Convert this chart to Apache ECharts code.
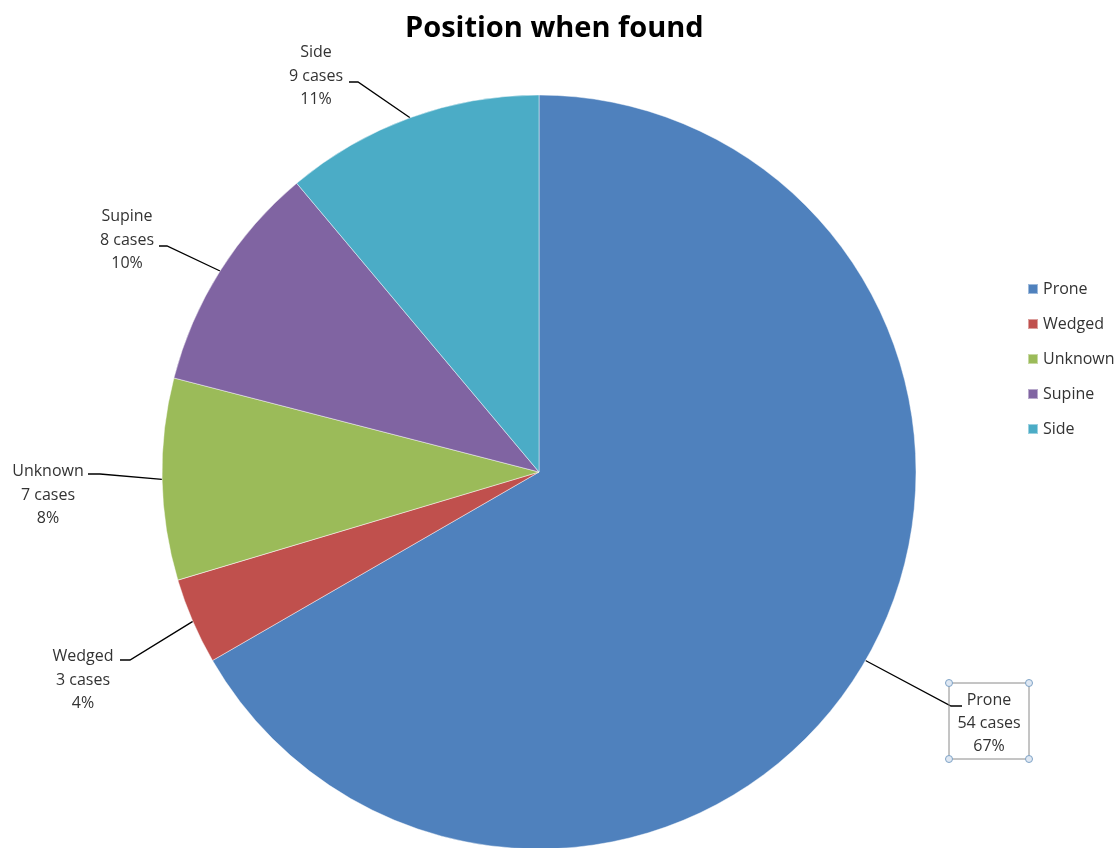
<!DOCTYPE html>
<html>
<head>
<meta charset="utf-8">
<script src="https://cdn.jsdelivr.net/npm/echarts@6/dist/echarts.min.js"></script>
<style>
  html, body { margin: 0; padding: 0; background: #fff; }
  #chart { width: 1117px; height: 848px; }
</style>
</head>
<body>
<div id="chart"></div>
<script>
// Position when found: number of cases per position
const categories = ['Prone', 'Wedged', 'Unknown', 'Supine', 'Side'];
const cases = [54, 3, 7, 8, 9];
const percentLabels = ['67%', '4%', '8%', '10%', '11%'];

const colors = ['#4F81BD', '#C0504D', '#9BBB59', '#8064A2', '#4BACC6'];

// Where each callout sits: text anchor (top-centre), leader end and bend
const callouts = [
  { x: 989, y: 683, end: [962, 706], bend: [951, 706] },
  { x: 83,  y: 645, end: [120, 660], bend: [130, 660] },
  { x: 48,  y: 460, end: [88, 474],  bend: [100, 474] },
  { x: 127, y: 205, end: [159, 246], bend: [167, 246] },
  { x: 316, y: 41,  end: [349, 82],  bend: [358, 82] }
];
const proneBox = { x: 949, y: 683, w: 80, h: 76 };

const labelFont = '"Open Sans", sans-serif';
const textColor = '#333333';

const pieData = categories.map((name, i) => {
  const item = { name: name, value: cases[i] };
  if (i === 0) {
    item.label = {
      borderColor: '#8a8a8a',
      borderWidth: 1,
      padding: [6, 0, 1, 0],
      width: proneBox.w,
      lineHeight: 23
    };
  }
  return item;
});

const chart = echarts.init(document.getElementById('chart'), null, { renderer: 'canvas' });

const handleStyle = { fill: '#dfe8f3', stroke: '#7fa3c6', lineWidth: 1 };
const corners = [
  [proneBox.x, proneBox.y],
  [proneBox.x + proneBox.w, proneBox.y],
  [proneBox.x, proneBox.y + proneBox.h],
  [proneBox.x + proneBox.w, proneBox.y + proneBox.h]
];

chart.setOption({
  animation: false,
  color: colors,
  title: {
    text: 'Position when found',
    left: 405,
    top: 14,
    padding: 0,
    textStyle: {
      fontFamily: labelFont,
      fontWeight: 'bold',
      fontSize: 29,
      color: '#000'
    }
  },
  legend: {
    orient: 'vertical',
    left: 1022,
    top: 276,
    itemWidth: 10,
    itemHeight: 10,
    itemGap: 19,
    icon: 'rect',
    data: categories,
    textStyle: {
      fontFamily: labelFont,
      fontSize: 16,
      color: textColor
    }
  },
  graphic: corners.map(c => ({
    type: 'circle',
    shape: { cx: c[0], cy: c[1], r: 3.5 },
    style: handleStyle,
    z: 100
  })),
  series: [{
    type: 'pie',
    center: [539, 472],
    radius: 377,
    startAngle: 90,
    clockwise: true,
    avoidLabelOverlap: false,
    data: pieData,
    itemStyle: {
      borderColor: 'rgba(255,255,255,0.45)',
      borderWidth: 1
    },
    label: {
      show: true,
      position: 'outside',
      fontFamily: labelFont,
      fontSize: 16,
      lineHeight: 23.5,
      color: textColor,
      formatter: p => p.name + '\n' + cases[p.dataIndex] + ' cases\n' + percentLabels[p.dataIndex]
    },
    labelLine: {
      show: true,
      lineStyle: { color: '#000', width: 1.3 }
    },
    labelLayout: params => {
      const c = callouts[params.dataIndex];
      const start = params.labelLinePoints ? params.labelLinePoints[0] : c.bend;
      return {
        x: c.x,
        y: c.y,
        align: 'center',
        verticalAlign: 'top',
        labelLinePoints: [start, c.bend, c.end]
      };
    },
    emphasis: { disabled: true }
  }]
});
</script>
</body>
</html>
